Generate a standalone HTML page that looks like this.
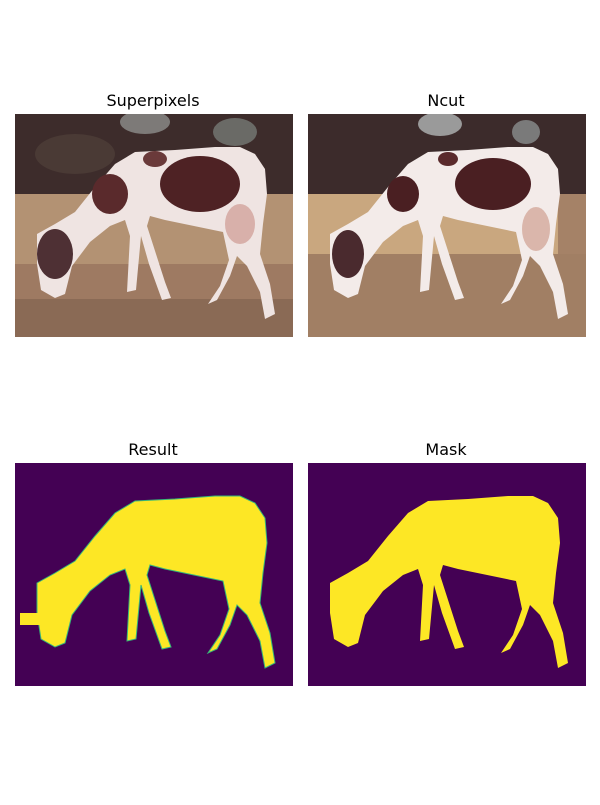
<!DOCTYPE html>
<html><head><meta charset="utf-8"><style>
html,body{margin:0;padding:0;background:#fff;}
svg text{font-family:"DejaVu Sans","Liberation Sans",sans-serif;font-size:16px;fill:#000;}
</style></head><body>
<svg width="600" height="800" viewBox="0 0 600 800" xmlns="http://www.w3.org/2000/svg">
<defs>
<path id="horse" d="M22,120 L40,110 L60,98 L80,73 L100,50 L120,38 L160,36 L200,33 L225,33 L240,40 L250,55 L252,80 L248,110 L245,140 L255,170 L260,200 L250,205 L245,178 L232,152 L222,142 L215,162 L202,186 L193,190 L205,172 L214,146 L208,118 L150,106 L135,102 L132,112 L150,168 L156,184 L147,186 L134,150 L126,122 L121,176 L112,178 L115,122 L110,106 L95,112 L75,128 L57,152 L50,180 L40,184 L26,176 L22,150 Z"/>
<clipPath id="cp"><rect x="0" y="0" width="278" height="223"/></clipPath>
</defs>

<text x="153" y="106" text-anchor="middle">Superpixels</text>
<g transform="translate(15,114)" clip-path="url(#cp)">
<rect width="278" height="223" fill="#b39273"/>
<rect width="278" height="80" fill="#3d2c2b"/>
<rect x="0" y="150" width="278" height="73" fill="#9e7a62"/>
<rect x="0" y="185" width="278" height="38" fill="#8a6a55"/>
<ellipse cx="130" cy="8" rx="25" ry="12" fill="#7d7a78"/>
<ellipse cx="220" cy="18" rx="22" ry="14" fill="#6a6a66"/>
<ellipse cx="60" cy="40" rx="40" ry="20" fill="#4a3a35"/>
<use href="#horse" fill="#efe4e2"/>
<ellipse cx="185" cy="70" rx="40" ry="28" fill="#4e2224"/>
<ellipse cx="95" cy="80" rx="18" ry="20" fill="#5a2a2c"/>
<ellipse cx="40" cy="140" rx="18" ry="25" fill="#4e3034"/>
<ellipse cx="140" cy="45" rx="12" ry="8" fill="#6a3a3a"/>
<ellipse cx="225" cy="110" rx="15" ry="20" fill="#d8b0aa"/>
</g>

<text x="446" y="106" text-anchor="middle">Ncut</text>
<g transform="translate(308,114)" clip-path="url(#cp)">
<rect width="278" height="223" fill="#c9a77f"/>
<rect width="278" height="80" fill="#3c2b2b"/>
<rect x="250" y="80" width="28" height="143" fill="#a58267"/>
<rect x="0" y="140" width="278" height="83" fill="#a17f64"/>
<ellipse cx="132" cy="10" rx="22" ry="12" fill="#9a9a9a"/>
<ellipse cx="218" cy="18" rx="14" ry="12" fill="#7a7a7a"/>
<use href="#horse" fill="#f3ebe9"/>
<ellipse cx="185" cy="70" rx="38" ry="26" fill="#4a1f22"/>
<ellipse cx="95" cy="80" rx="16" ry="18" fill="#4a1f22"/>
<ellipse cx="40" cy="140" rx="16" ry="24" fill="#4a2a2e"/>
<ellipse cx="140" cy="45" rx="10" ry="7" fill="#5a2a2c"/>
<ellipse cx="228" cy="115" rx="14" ry="22" fill="#dab6ab"/>
</g>

<text x="153" y="455" text-anchor="middle">Result</text>
<g transform="translate(15,463)" clip-path="url(#cp)">
<rect width="278" height="223" fill="#440154"/>
<use href="#horse" fill="#fde725" stroke="#35b779" stroke-width="1"/>
<rect x="5" y="150" width="25" height="12" fill="#fde725"/>
</g>

<text x="446" y="455" text-anchor="middle">Mask</text>
<g transform="translate(308,463)" clip-path="url(#cp)">
<rect width="278" height="223" fill="#440154"/>
<use href="#horse" fill="#fde725"/>
</g>
</svg>
</body></html>
